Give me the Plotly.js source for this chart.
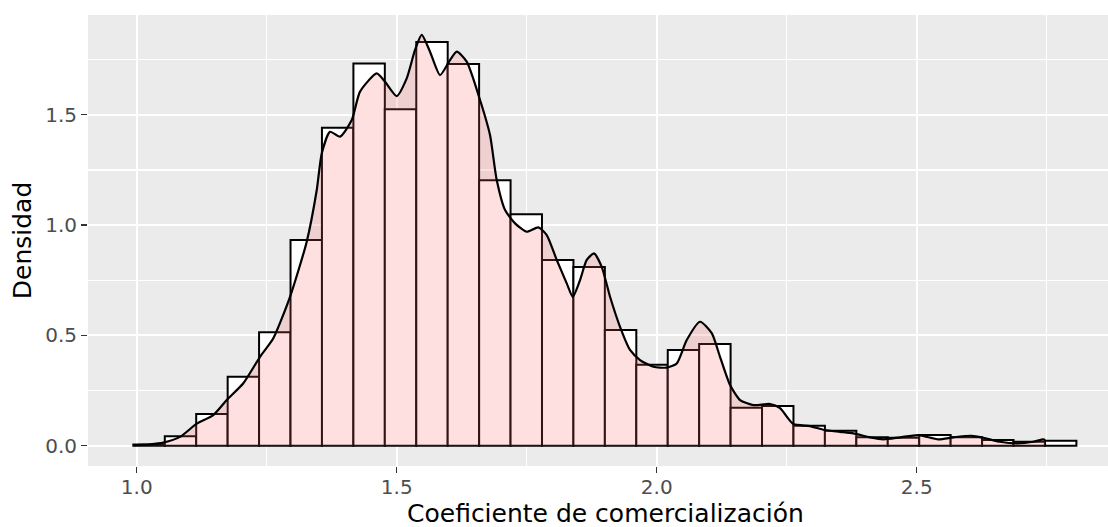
<!DOCTYPE html>
<html>
<head>
<meta charset="utf-8">
<script src="https://cdn.plot.ly/plotly-3.0.1.min.js"></script>
<style>
  html, body { margin: 0; padding: 0; background: #ffffff; }
  #chart { width: 1108px; height: 527px; }
</style>
</head>
<body>
<div id="chart"></div>
<script>
// Histogram bins (density scale)
const binCenters = [1.0237, 1.0842, 1.1446, 1.2051, 1.2655, 1.3260, 1.3864, 1.4469, 1.5073, 1.5678,
                    1.6282, 1.6887, 1.7491, 1.8096, 1.8700, 1.9305, 1.9909, 2.0514, 2.1118, 2.1723,
                    2.2327, 2.2932, 2.3536, 2.4141, 2.4745, 2.5350, 2.5954, 2.6559, 2.7163, 2.7768];
const binWidth = 0.06045;
const histDensity = [0.005, 0.043, 0.144, 0.313, 0.514, 0.932, 1.441, 1.733, 1.525, 1.830,
                     1.730, 1.203, 1.049, 0.842, 0.810, 0.524, 0.367, 0.434, 0.461, 0.172,
                     0.180, 0.091, 0.068, 0.038, 0.036, 0.048, 0.038, 0.026, 0.018, 0.023];

// Kernel density estimate curve
const kdeX = [0.9935, 1.0256, 1.0512, 1.0833, 1.1154, 1.1473, 1.1731, 1.2050, 1.2371, 1.2627,
              1.2948, 1.3269, 1.3462, 1.3558, 1.3717, 1.3910, 1.4135, 1.4294, 1.4615, 1.4775,
              1.5000, 1.5192, 1.5352, 1.5481, 1.5640, 1.5833, 1.6025, 1.6154, 1.6346, 1.6602,
              1.6794, 1.6923, 1.7083, 1.7275, 1.7500, 1.7723, 1.7885, 1.8077, 1.8269, 1.8385,
              1.8525, 1.8654, 1.8794, 1.8942, 1.9102, 1.9294, 1.9487, 1.9679, 1.9935, 2.0192,
              2.0385, 2.0577, 2.0833, 2.1058, 2.1217, 2.1410, 2.1602, 2.1858, 2.2179, 2.2371,
              2.2627, 2.2948, 2.3223, 2.3525, 2.3781, 2.4102, 2.4358, 2.4679, 2.5031, 2.5415,
              2.5704, 2.6058, 2.6281, 2.6602, 2.6923, 2.7242, 2.7435, 2.7468];
const kdeY = [0.002, 0.006, 0.014, 0.040, 0.100, 0.139, 0.207, 0.283, 0.403, 0.487,
              0.675, 0.925, 1.159, 1.325, 1.423, 1.401, 1.476, 1.605, 1.688, 1.650,
              1.585, 1.665, 1.794, 1.862, 1.786, 1.680, 1.748, 1.786, 1.741, 1.567,
              1.408, 1.204, 1.068, 1.008, 0.970, 0.990, 0.955, 0.842, 0.736, 0.675,
              0.751, 0.842, 0.872, 0.811, 0.675, 0.539, 0.434, 0.388, 0.358, 0.354,
              0.373, 0.479, 0.562, 0.510, 0.403, 0.275, 0.207, 0.184, 0.189, 0.170,
              0.098, 0.089, 0.071, 0.063, 0.056, 0.038, 0.029, 0.038, 0.048, 0.029,
              0.038, 0.045, 0.036, 0.018, 0.011, 0.018, 0.029, 0.025];

const xTicks = [1.0, 1.5, 2.0, 2.5];
const yTicks = [0.0, 0.5, 1.0, 1.5];
const xTitle = 'Coeficiente de comercialización';
const yTitle = 'Densidad';

const traces = [
  {
    type: 'bar',
    x: binCenters,
    y: histDensity,
    width: binWidth,
    marker: { color: '#ffffff', line: { color: '#000000', width: 2 } },
    hoverinfo: 'x+y'
  },
  {
    type: 'scatter',
    mode: 'lines',
    x: kdeX,
    y: kdeY,
    fill: 'tozeroy',
    fillcolor: 'rgba(255,102,102,0.2)',
    line: { color: '#000000', width: 2.2, shape: 'spline', smoothing: 0.6 },
    hoverinfo: 'x+y'
  }
];

const layout = {
  width: 1108,
  height: 527,
  margin: { l: 88, r: 0, t: 15, b: 61 },
  paper_bgcolor: '#ffffff',
  plot_bgcolor: '#EBEBEB',
  showlegend: false,
  bargap: 0,
  font: { family: 'DejaVu Sans, sans-serif', color: '#4D4D4D' },
  xaxis: {
    range: [0.9063, 2.8678],
    tickvals: xTicks,
    ticktext: xTicks.map(v => v.toFixed(1)),
    ticks: 'outside', ticklen: 6, tickwidth: 1.3, tickcolor: '#333333',
    tickfont: { size: 20, color: '#4D4D4D' },
    ticklabelstandoff: -3,
    showgrid: true, gridcolor: '#ffffff', gridwidth: 2.2,
    minor: { dtick: 0.25, tick0: 0, showgrid: true, gridcolor: '#ffffff', gridwidth: 1.1 },
    zeroline: false, showline: false,
    automargin: false
  },
  yaxis: {
    range: [-0.092, 1.9524],
    tickvals: yTicks,
    ticktext: yTicks.map(v => v.toFixed(1)),
    ticks: 'outside', ticklen: 6, tickwidth: 1.3, tickcolor: '#333333',
    tickfont: { size: 20, color: '#4D4D4D' },
    showgrid: true, gridcolor: '#ffffff', gridwidth: 2.2,
    minor: { dtick: 0.25, tick0: 0, showgrid: true, gridcolor: '#ffffff', gridwidth: 1.1 },
    zeroline: false, showline: false,
    automargin: false,
    title: { text: yTitle, font: { size: 25, color: '#000000' }, standoff: 6 }
  },
  annotations: [
    {
      text: xTitle,
      xref: 'paper', yref: 'paper',
      x: 0.5078, y: -0.106,
      xanchor: 'center', yanchor: 'middle',
      showarrow: false,
      font: { family: 'DejaVu Sans, sans-serif', size: 25, color: '#000000' }
    }
  ]
};

Plotly.newPlot('chart', traces, layout, { displayModeBar: false, staticPlot: true });
</script>
</body>
</html>
